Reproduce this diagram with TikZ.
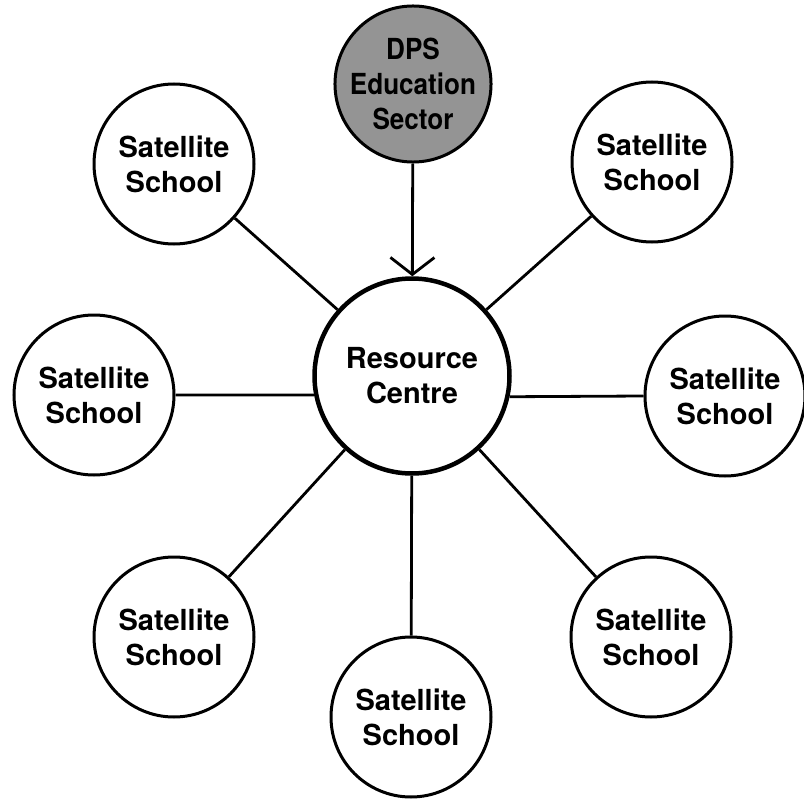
\documentclass[tikz,border=0pt]{standalone}
\usepackage{fontspec}
\setmainfont{TeX Gyre Heros}
\newfontfamily\dpsfont[FakeStretch=0.9]{TeX Gyre Heros}
\usetikzlibrary{arrows.meta}
\begin{document}
\begin{tikzpicture}[x=1pt,y=-1pt,
  sat/.style={circle,draw,line width=3pt,minimum size=160pt,inner sep=0pt,align=center,
    font=\bfseries\fontsize{29}{35}\selectfont},
  hub/.style={circle,draw,line width=4.5pt,minimum size=195pt,inner sep=0pt,align=center,
    font=\bfseries\fontsize{29}{35}\selectfont},
  dpsnode/.style={circle,draw,line width=3pt,fill=black!42,minimum size=154pt,inner sep=0pt,align=center,
    font=\dpsfont\bfseries\fontsize{29}{35}\selectfont},
  conn/.style={line width=2.8pt},
  arr/.style={conn,-{Straight Barb[length=17pt,width=44pt,line width=2.8pt]}}
]
\useasboundingbox (0,0) rectangle (804,800);
\node[hub] (rc) at (412,376) {Resource\\Centre};
\node[dpsnode] (dps) at (413,84) {DPS\\Education\\Sector};
\node[sat] (s1) at (174,164) {Satellite\\School};
\node[sat] (s2) at (652,162) {Satellite\\School};
\node[sat] (s3) at (94,395) {Satellite\\School};
\node[sat] (s4) at (725,396) {Satellite\\School};
\node[sat] (s5) at (174,637) {Satellite\\School};
\node[sat] (s6) at (411,717) {Satellite\\School};
\node[sat] (s7) at (651,637) {Satellite\\School};
\draw[arr] (dps) -- (rc);
\draw[conn] (s1) -- (rc);
\draw[conn] (s2) -- (rc);
\draw[conn] (s3.east) -- (rc.191);
\draw[conn] (s4.west) -- (rc.-12);
\draw[conn] (s5) -- (rc);
\draw[conn] (s6) -- (rc);
\draw[conn] (s7) -- (rc);
\end{tikzpicture}
\end{document}
